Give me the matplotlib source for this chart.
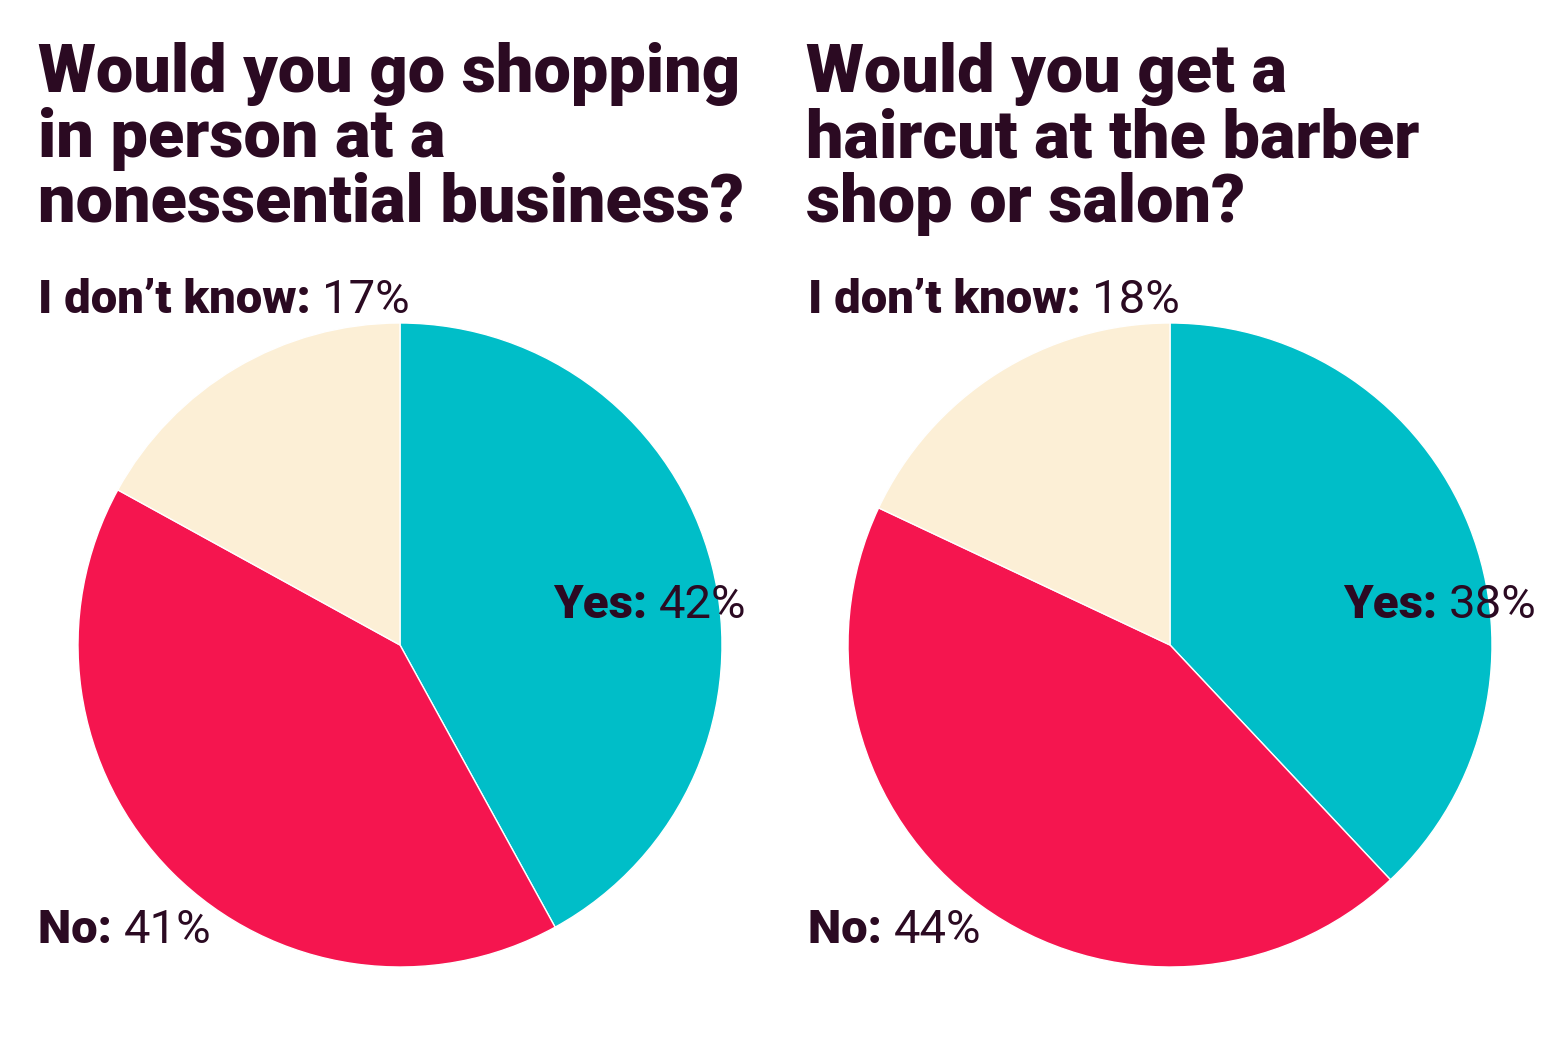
import matplotlib
matplotlib.use("Agg")
import matplotlib.pyplot as plt

titles = ["Would you go shopping\nin person at a\nnonessential business?",
          "Would you get a\nhaircut at the barber\nshop or salon?"]
categories = ["Yes", "No", "I don\u2019t know"]
values_left = [42, 41, 17]
values_right = [38, 44, 18]
colors = ["#00BEC8", "#F5154F", "#FCEFD6"]
dark = "#2B0A22"

W, H = 1560, 1040
fig = plt.figure(figsize=(15.6, 10.4), dpi=100)
fig.patch.set_facecolor("white")
r = fig.canvas.get_renderer()

def fx(x): return x / W
def fy(y): return 1 - y / H

def label(x, y, bold, reg):
    t = fig.text(fx(x), fy(y), bold + " ", fontsize=34, fontweight="black", family="Roboto",
                 color=dark, va="center", ha="left")
    bb = t.get_window_extent(renderer=r)
    fig.text(bb.x1 / W, fy(y), reg, fontsize=34, family="Roboto", color=dark,
             va="center", ha="left")

def pie(cx, vals, title, tx, lbls):
    R = 322
    ax = fig.add_axes([fx(cx - R), fy(645 + R), 2 * R / W, 2 * R / H])
    ax.pie(vals, colors=colors, startangle=90, counterclock=False,
           wedgeprops=dict(linewidth=1, edgecolor="white"))
    ax.set_xlim(-1, 1)
    ax.set_ylim(-1, 1)
    ax.set_aspect("equal")
    fig.text(fx(tx), fy(42), title, fontsize=48, fontweight="black", family="Roboto",
             color=dark, va="top", ha="left", linespacing=1.02)
    for (x, y), c, v in zip(lbls, categories, vals):
        label(x, y, c + ":", f"{v}%")

pie(400, values_left, titles[0], 38, [(553, 605), (38, 930), (38, 300)])
pie(1170, values_right, titles[1], 806, [(1343, 605), (808, 930), (808, 300)])

fig.savefig("out.png", dpi=100)
